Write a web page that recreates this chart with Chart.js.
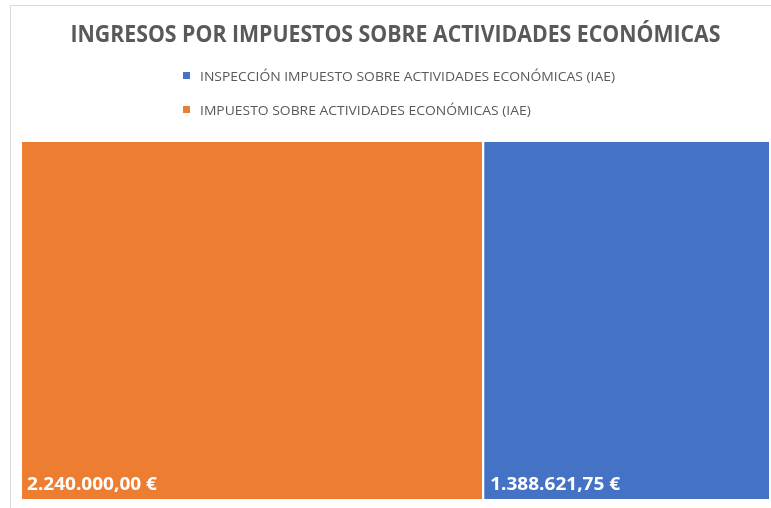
<!DOCTYPE html>
<html>
<head>
<meta charset="utf-8">
<script src="https://cdn.jsdelivr.net/npm/chart.js@4.4.1/dist/chart.umd.min.js"></script>
<style>
  html, body { margin: 0; padding: 0; background: #ffffff; }
  #wrap { position: relative; width: 771px; height: 508px; }
  canvas { display: block; }
</style>
</head>
<body>
<div id="wrap"><canvas id="c" width="771" height="508"></canvas></div>
<script>
const chartTitle = 'INGRESOS POR IMPUESTOS SOBRE ACTIVIDADES ECONÓMICAS';
const categories = ['IAE'];
const seriesNames = ['IMPUESTO SOBRE ACTIVIDADES ECONÓMICAS (IAE)', 'INSPECCIÓN IMPUESTO SOBRE ACTIVIDADES ECONÓMICAS (IAE)'];
const impuestoValues = [2240000.00];
const inspeccionValues = [1388621.75];
const legendOrder = [1, 0];

const colors = ['#ED7D31', '#4472C4'];
const total = impuestoValues[0] + inspeccionValues[0];

function fmtEuro(v) {
  return v.toLocaleString('de-DE', { minimumFractionDigits: 2, maximumFractionDigits: 2 }) + ' €';
}

function drawScaled(ctx, text, x, y, font, s) {
  ctx.save();
  ctx.font = font;
  ctx.textBaseline = 'alphabetic';
  ctx.textAlign = 'left';
  ctx.translate(x, y);
  ctx.scale(s, 1);
  ctx.fillText(text, 0, 0);
  ctx.restore();
}

const decorPlugin = {
  id: 'decor',
  beforeDraw(chart) {
    const ctx = chart.ctx;
    ctx.save();
    ctx.fillStyle = '#ffffff';
    ctx.fillRect(0, 0, chart.width, chart.height);
    ctx.strokeStyle = '#d9d9d9';
    ctx.lineWidth = 1;
    ctx.beginPath();
    ctx.moveTo(10.5, chart.height + 2);
    ctx.lineTo(10.5, 5.5);
    ctx.lineTo(chart.width + 2, 5.5);
    ctx.stroke();
    ctx.restore();
  },
  afterDraw(chart) {
    const ctx = chart.ctx;
    const area = chart.chartArea;
    // Title
    ctx.fillStyle = '#595959';
    const tFont = 'bold 24px "Open Sans", sans-serif';
    ctx.font = tFont;
    const ts = 650 / ctx.measureText(chartTitle).width;
    drawScaled(ctx, chartTitle, (area.left + area.right) / 2 - 325, 42, tFont, ts);
    // Legend (vertical list)
    const font = '13.5px "Open Sans", sans-serif';
    ctx.font = font;
    const sc = 415 / ctx.measureText(seriesNames[1]).width;
    const rows = [81, 115];
    legendOrder.forEach((di, i) => {
      const y = rows[i];
      ctx.fillStyle = colors[di];
      ctx.fillRect(183, y - 9, 7, 7);
      ctx.fillStyle = '#595959';
      drawScaled(ctx, seriesNames[di], 200, y, font, sc);
    });
    // Data labels
    const lFont = 'bold 18px "Open Sans", sans-serif';
    ctx.font = lFont;
    const ls = 130 / ctx.measureText(fmtEuro(impuestoValues[0])).width;
    chart.data.datasets.forEach((ds, di) => {
      const meta = chart.getDatasetMeta(di);
      meta.data.forEach((bar, i) => {
        const left = Math.min(bar.base, bar.x);
        const bottom = bar.y + bar.height / 2;
        ctx.fillStyle = '#ffffff';
        drawScaled(ctx, fmtEuro(ds.data[i]), left + (di === 0 ? 5 : 7), bottom - 9, lFont, ls);
      });
    });
  }
};

new Chart(document.getElementById('c'), {
  type: 'bar',
  data: {
    labels: categories,
    datasets: [
      {
        label: seriesNames[0],
        data: impuestoValues,
        backgroundColor: colors[0],
        borderColor: '#ffffff',
        borderWidth: { top: 0, left: 0, bottom: 0, right: 1.5 },
        borderSkipped: false,
        barPercentage: 1,
        categoryPercentage: 1
      },
      {
        label: seriesNames[1],
        data: inspeccionValues,
        backgroundColor: colors[1],
        borderColor: '#ffffff',
        borderWidth: { top: 0, left: 1.5, bottom: 0, right: 0 },
        borderSkipped: false,
        barPercentage: 1,
        categoryPercentage: 1
      }
    ]
  },
  options: {
    indexAxis: 'y',
    responsive: false,
    animation: false,
    layout: { padding: { left: 22, right: 2, top: 142, bottom: 9 } },
    scales: {
      x: { stacked: true, display: false, min: 0, max: total },
      y: { stacked: true, display: false }
    },
    plugins: {
      legend: { display: false },
      title: { display: false },
      tooltip: { enabled: false }
    }
  },
  plugins: [decorPlugin]
});
</script>
</body>
</html>
